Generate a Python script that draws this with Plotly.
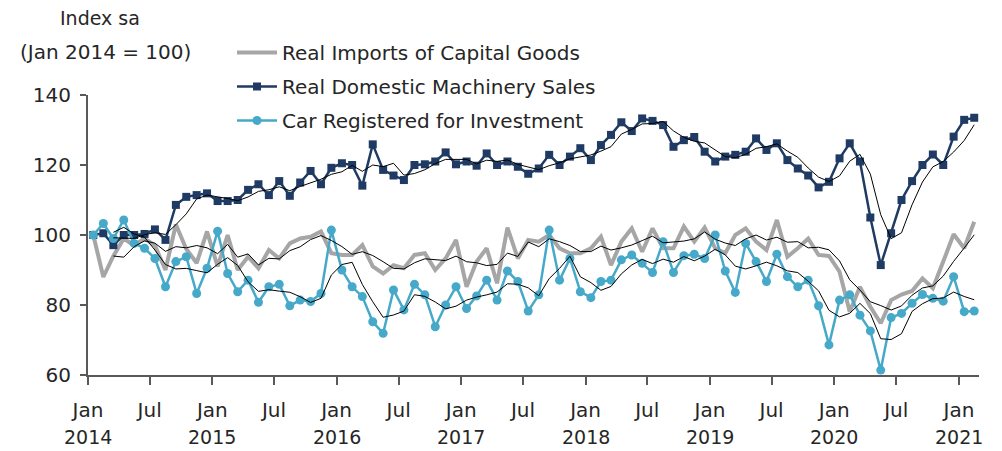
import pandas as pd
import plotly.graph_objects as go

months = pd.date_range("2014-01-01", "2021-02-01", freq="MS")

imports = [100, 88, 94, 99, 97, 99, 97, 90, 103, 96, 92, 101, 91, 100, 90,
           93.8, 90.5, 95.7, 93.3, 97.6, 99, 99.5, 101, 94.8, 94.3, 94.3, 97.1, 91, 89,
           91.4, 90.5, 94.3, 94.8, 90, 93.3, 98.6, 85.2, 92.4, 96.2, 86.2, 102.1, 93.3, 98.6,
           98.1, 100, 96.2, 94.8, 94.8, 96.2, 99.5, 91.4, 98.1, 101.9, 95.2, 101.9, 96.2, 96.2, 102.4,
           98.1, 102.1, 96.2, 94.8, 100, 101.9, 98.1, 95.7, 104.3, 93.8, 96.2, 99, 94.3, 94,
           89.5, 78.1, 85.2, 79.5, 74.8, 81.4, 83, 84, 87.6, 84.8, 92.4, 100.2, 96.2, 103.8]

machinery = [100, 100.5, 97.1, 100, 100, 100.3, 101.6, 98.6, 108.6, 110.9, 111.4, 111.9, 109.7, 109.7, 110,
             112.9, 114.5, 111.4, 115.4, 111.2, 115, 118.3, 114.5, 119.2, 120.5, 120, 114.1, 125.9, 118.6,
             117, 115.7, 120, 120.2, 121, 123.6, 120.2, 121, 119.8, 123.3, 120, 121, 119.5, 117.5,
             119, 122.9, 120, 122.4, 124.8, 121.4, 125.7, 128.6, 132.2, 129.7, 133.3, 132.6, 131.4, 125.2, 127.1,
             128, 123.8, 121, 122.4, 122.9, 123.8, 127.6, 124.3, 126.2, 121.4, 119, 117, 113.6, 115.2,
             121.9, 126.2, 121, 105, 91.4, 100.5, 110, 115.4, 120, 123, 120, 128.1, 132.9, 133.5]

car = [100, 103.3, 99, 104.3, 97.6, 96.2, 93.3, 85.2, 92.4, 93.8, 83.3, 90.5, 101.1, 89, 83.8,
       87.1, 80.8, 85.2, 85.9, 79.8, 81.4, 81, 83.3, 101.4, 90, 85.2, 82.4, 75.2, 71.9,
       84.3, 78.6, 85.9, 82.9, 73.8, 80, 85.2, 79, 82.6, 87.1, 81.4, 89.7, 86.7, 78.3,
       82.9, 101.4, 87.1, 93.3, 83.8, 82.1, 86.7, 87.1, 92.9, 94.3, 91.9, 89.3, 98.1, 89.3, 94.1,
       94.5, 93.3, 100, 89.7, 83.6, 97.6, 92.4, 86.7, 94.5, 88.1, 85.2, 87.1, 79.8, 68.6,
       81.4, 82.9, 77.1, 72.6, 61.4, 76.4, 77.6, 80.5, 83, 81.9, 81.1, 88.1, 78.1, 78.3]

names = ["Real Imports of Capital Goods", "Real Domestic Machinery Sales",
         "Car Registered for Investment"]

tick_dates = pd.date_range("2014-01-01", "2021-01-01", freq="6MS")
tick_text = [d.strftime("%b") for d in tick_dates]
years = list(range(2014, 2022))

FONT = "DejaVu Sans"
FS = 20
TXT = "#262626"
AX = "#595959"

fig = go.Figure()
common = dict(xperiod="M1", xperiodalignment="middle")

fig.add_trace(go.Scatter(x=months, y=imports, name=names[0], mode="lines",
                         line=dict(color="#A6A6A6", width=4), legendgroup="a", **common))
fig.add_trace(go.Scatter(x=months, y=machinery, name=names[1], mode="lines+markers",
                         line=dict(color="#1F3B63", width=2.5),
                         marker=dict(symbol="square", size=8, color="#1F3B63"),
                         legendgroup="b", **common))
fig.add_trace(go.Scatter(x=months, y=car, name=names[2], mode="lines+markers",
                         line=dict(color="#46A9C9", width=2.5),
                         marker=dict(symbol="circle", size=9, color="#46A9C9"),
                         legendgroup="c", **common))

for s in (imports, machinery, car):
    ma = pd.Series(s).rolling(3).mean()
    fig.add_trace(go.Scatter(x=months, y=ma, mode="lines", showlegend=False,
                             line=dict(color="#000000", width=1), hoverinfo="skip", **common))

annotations = []
for yv in years:
    annotations.append(dict(text=str(yv), x=pd.Timestamp(f"{yv}-01-01"), xref="x",
                            y=-0.222, yref="paper", yanchor="middle", xanchor="center",
                            showarrow=False, font=dict(size=19, color=TXT, family=FONT)))
annotations.append(dict(text="Index sa", x=(100 - 88) / 891, y=1 + (95 - 18) / 280,
                        xref="paper", yref="paper", xanchor="center", yanchor="middle",
                        showarrow=False, font=dict(size=19, color=TXT, family=FONT)))
annotations.append(dict(text="(Jan 2014 = 100)", x=(105 - 88) / 891, y=1 + (95 - 52) / 280,
                        xref="paper", yref="paper", xanchor="center", yanchor="middle",
                        showarrow=False, font=dict(size=FS, color=TXT, family=FONT)))

fig.update_layout(
    width=1002, height=451,
    margin=dict(l=88, r=23, t=95, b=76),
    paper_bgcolor="white", plot_bgcolor="white",
    font=dict(family=FONT, size=FS, color=TXT),
    showlegend=True,
    legend=dict(x=(232 - 88) / 891, y=1 + (95 - 33) / 280, xanchor="left", yanchor="top",
                bgcolor="rgba(0,0,0,0)", tracegroupgap=5, font=dict(size=FS, color=TXT),
                itemwidth=40),
    annotations=annotations,
)
fig.update_xaxes(range=["2014-01-01", "2021-03-01"], tickvals=tick_dates, ticktext=tick_text,
                 ticks="outside", ticklen=8, tickwidth=1.5, tickcolor=AX,
                 showline=True, linecolor=AX, linewidth=2, showgrid=False, zeroline=False,
                 ticklabelstandoff=8, tickfont=dict(size=FS, color=TXT))
fig.update_yaxes(range=[60, 140], tickvals=[60, 80, 100, 120, 140],
                 ticks="outside", ticklen=6, tickwidth=1.5, tickcolor=AX,
                 showline=True, linecolor=AX, linewidth=2, showgrid=False, zeroline=False,
                 ticklabelstandoff=5, tickfont=dict(size=FS, color=TXT))

fig.write_html("out.html", config={"displayModeBar": False},
               post_script="document.body.style.margin='0';")
